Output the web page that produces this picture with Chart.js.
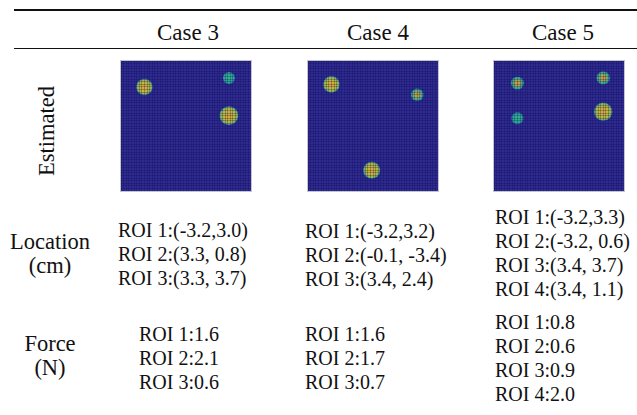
<!DOCTYPE html>
<html>
<head>
<meta charset="utf-8">
<script src="https://cdn.jsdelivr.net/npm/chart.js@4.4.0/dist/chart.umd.min.js"></script>
<style>
  body { margin: 0; background: #fff; }
  #page { position: relative; width: 637px; height: 415px; overflow: hidden;
          font-family: "Liberation Serif", "Times New Roman", serif; color: #111; }
  .rule { position: absolute; left: 14px; right: 0; background: #111; }
  .txt { position: absolute; white-space: nowrap; }
  .head { font-size: 23px; line-height: 26px; text-align: center; width: 120px; }
  .label { font-size: 22.5px; line-height: 24px; text-align: center; width: 100px; }
  .roi { font-size: 20px; line-height: 24px; }
  .panel { position: absolute; width: 130px; height: 130px; border: 1px solid #c4c4cc; background: #2f2a90; }
  .panel canvas { display: block; }
</style>
</head>
<body>
<div id="page">
  <div class="rule" style="top:9px;height:2px"></div>
  <div class="rule" style="top:48px;height:1px"></div>

  <div class="txt label" style="left:-8px;top:119px;transform:rotate(-90deg);width:110px">Estimated</div>
  <div class="txt label" style="left:0;top:230px">Location<br>(cm)</div>
  <div class="txt label" style="left:0;top:332px">Force<br>(N)</div>

  <div id="heads"></div>
  <div id="cells"></div>

  <div class="panel" style="left:120px;top:60px"><canvas id="heat3" width="130" height="130"></canvas></div>
  <div class="panel" style="left:307px;top:60px"><canvas id="heat4" width="130" height="130"></canvas></div>
  <div class="panel" style="left:493px;top:60px"><canvas id="heat5" width="130" height="130"></canvas></div>
</div>
<script>
// Cases shown in the table
const caseNames = ['Case 3', 'Case 4', 'Case 5'];

// Estimated ROI locations (cm) for each case
const case3X = [-3.2, 3.3, 3.3];
const case3Y = [3.0, 0.8, 3.7];
const case4X = [-3.2, -0.1, 3.4];
const case4Y = [3.2, -3.4, 2.4];
const case5X = [-3.2, -3.2, 3.4, 3.4];
const case5Y = [3.3, 0.6, 3.7, 1.1];

// Estimated ROI forces (N)
const case3Force = [1.6, 2.1, 0.6];
const case4Force = [1.6, 1.7, 0.7];
const case5Force = [0.8, 0.6, 0.9, 2.0];

// location text as printed (spacing kept like the original)
const case3LocText = ['(-3.2,3.0)', '(3.3, 0.8)', '(3.3, 3.7)'];
const case4LocText = ['(-3.2,3.2)', '(-0.1, -3.4)', '(3.4, 2.4)'];
const case5LocText = ['(-3.2,3.3)', '(-3.2, 0.6)', '(3.4, 3.7)', '(3.4, 1.1)'];

// column header positions
const headCenters = [188, 378, 563];
const heads = document.getElementById('heads');
caseNames.forEach((name, i) => {
  const d = document.createElement('div');
  d.className = 'txt head';
  d.style.left = (headCenters[i] - 60) + 'px';
  d.style.top = '20px';
  d.textContent = name;
  heads.appendChild(d);
});

function addBlock(lines, left, top) {
  const d = document.createElement('div');
  d.className = 'txt roi';
  d.style.left = left + 'px';
  d.style.top = top + 'px';
  d.innerHTML = lines.join('<br>');
  document.getElementById('cells').appendChild(d);
}

addBlock(case3LocText.map((t, i) => 'ROI ' + (i + 1) + ':' + t), 118, 218);
addBlock(case4LocText.map((t, i) => 'ROI ' + (i + 1) + ':' + t), 305, 219);
addBlock(case5LocText.map((t, i) => 'ROI ' + (i + 1) + ':' + t), 495, 205);
addBlock(case3Force.map((f, i) => 'ROI ' + (i + 1) + ':' + f.toFixed(1)), 139, 322);
addBlock(case4Force.map((f, i) => 'ROI ' + (i + 1) + ':' + f.toFixed(1)), 305, 322);
addBlock(case5Force.map((f, i) => 'ROI ' + (i + 1) + ':' + f.toFixed(1)), 495, 310);

// colour stops of a blob, depending on the force
function blobStops(f) {
  if (f >= 1.5) return [[0, '#cfae3c'], [0.55, '#c9b63a'], [0.82, '#9cb654'], [1, '#25a29c']];
  if (f >= 0.65) return [[0, '#d0973c'], [0.4, '#b3a84c'], [0.78, '#3fae8c'], [1, '#229ea2']];
  return [[0, '#3ab48e'], [0.75, '#2aaa98'], [1, '#2494a8']];
}

function drawHeat(id, xs, ys, forces) {
  const points = xs.map((x, i) => ({ x: x, y: ys[i], r: 4.6 + 2.3 * forces[i], f: forces[i] }));
  new Chart(document.getElementById(id), {
    type: 'bubble',
    data: {
      datasets: [{
        data: points,
        borderWidth: 0,
        backgroundColor: (ctx) => {
          const chart = ctx.chart;
          if (!ctx.raw || !chart.chartArea) return '#2aab98';
          const px = chart.scales.x.getPixelForValue(ctx.raw.x);
          const py = chart.scales.y.getPixelForValue(ctx.raw.y);
          const g = chart.ctx.createRadialGradient(px, py, 0, px, py, ctx.raw.r);
          blobStops(ctx.raw.f).forEach((s) => g.addColorStop(s[0], s[1]));
          return g;
        }
      }]
    },
    options: {
      responsive: false,
      animation: false,
      events: [],
      layout: { padding: 0, autoPadding: false },
      plugins: { legend: { display: false }, tooltip: { enabled: false } },
      scales: {
        x: {
          min: -5, max: 5,
          ticks: { display: false, stepSize: 0.2 },
          border: { display: false },
          grid: { color: 'rgba(15,10,80,0.28)', drawTicks: false, z: 1 }
        },
        y: {
          min: -5, max: 5,
          ticks: { display: false, stepSize: 0.2 },
          border: { display: false },
          grid: { color: 'rgba(15,10,80,0.28)', drawTicks: false, z: 1 }
        }
      }
    }
  });
}

drawHeat('heat3', case3X, case3Y, case3Force);
drawHeat('heat4', case4X, case4Y, case4Force);
drawHeat('heat5', case5X, case5Y, case5Force);
</script>
</body>
</html>
